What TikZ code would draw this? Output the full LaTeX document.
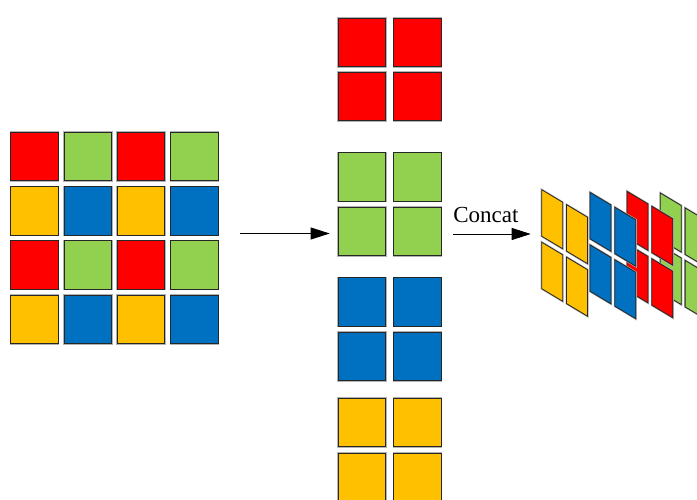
\documentclass[tikz,border=0pt]{standalone}
\usepackage{fontspec}
\setmainfont{Liberation Serif}
\usetikzlibrary{positioning,arrows.meta}

\definecolor{cred}{HTML}{FF0000}
\definecolor{cgreen}{HTML}{92D050}
\definecolor{cblue}{HTML}{0070C0}
\definecolor{cyellow}{HTML}{FFC000}

% one slanted square of the stacked view
\newcommand{\panel}[3]{%
  \draw[pane, fill=#1] (#2,#3) -- ++(21,12.6) -- ++(0,46.5) -- ++(-21,-12.6) -- cycle;}
% a 2x2 block of slanted squares
\newcommand{\panelblock}[3]{%
  \panel{#1}{#2}{#3} \panel{#1}{#2+24.8}{#3+14.9}
  \panel{#1}{#2}{#3+52.5} \panel{#1}{#2+24.8}{#3+67.4}}

\begin{document}
\begin{tikzpicture}[x=1bp, y=-1bp, node distance=5.8bp,
	sq/.style = {draw=black!85, line width=0.8pt, minimum width=47.5bp, minimum height=48.5bp,
		inner sep=0pt, outer sep=0pt, preaction={draw=black!30, line width=2pt}},
	pane/.style = {draw=black!85, line width=0.8pt, preaction={draw=black!30, line width=2pt}},
	arr/.style = {line width=0.8pt, -{Triangle[length=19bp,width=12bp]}}]
	\path[use as bounding box] (0,0) rectangle (697,500);
	\clip (0,0) rectangle (697,500);

	% input map
	\node[sq, fill=cred] (a1) at (34.5,156.5) {};
	\node[sq, fill=cgreen, right=of a1] (a2) {};
	\node[sq, fill=cred, right=of a2] (a3) {};
	\node[sq, fill=cgreen, right=of a3] (a4) {};
	\node[sq, fill=cyellow, below=of a1] (b1) {};
	\node[sq, fill=cblue, right=of b1] (b2) {};
	\node[sq, fill=cyellow, right=of b2] (b3) {};
	\node[sq, fill=cblue, right=of b3] (b4) {};
	\node[sq, fill=cred, below=of b1] (c1) {};
	\node[sq, fill=cgreen, right=of c1] (c2) {};
	\node[sq, fill=cred, right=of c2] (c3) {};
	\node[sq, fill=cgreen, right=of c3] (c4) {};
	\node[sq, fill=cyellow, below=of c1] (d1) {};
	\node[sq, fill=cblue, right=of d1] (d2) {};
	\node[sq, fill=cyellow, right=of d2] (d3) {};
	\node[sq, fill=cblue, right=of d3] (d4) {};

	% split by colour
	\node[sq, fill=cred] (r1) at (361.9,42.3) {};
	\node[sq, fill=cred, right=8bp of r1] (r2) {};
	\node[sq, fill=cred, below=of r1] (r3) {};
	\node[sq, fill=cred, right=8bp of r3] (r4) {};
	\node[sq, fill=cgreen] (g1) at (361.9,177) {};
	\node[sq, fill=cgreen, right=8bp of g1] (g2) {};
	\node[sq, fill=cgreen, below=of g1] (g3) {};
	\node[sq, fill=cgreen, right=8bp of g3] (g4) {};
	\node[sq, fill=cblue] (u1) at (361.9,302) {};
	\node[sq, fill=cblue, right=8bp of u1] (u2) {};
	\node[sq, fill=cblue, below=of u1] (u3) {};
	\node[sq, fill=cblue, right=8bp of u3] (u4) {};
	\node[sq, fill=cyellow] (y1) at (361.9,422.6) {};
	\node[sq, fill=cyellow, right=8bp of y1] (y2) {};
	\node[sq, fill=cyellow, below=6.5bp of y1] (y3) {};
	\node[sq, fill=cyellow, right=8bp of y3] (y4) {};

	\coordinate (s1) at (240,233.5);
	\draw[arr, shorten >=8.5bp] (s1) -- (s1 -| g3.west);
	\coordinate (t2) at (530.7,234);
	\draw[arr, shorten <=11.8bp] (g4.east |- t2) -- (t2)
		node[midway, above=10.7bp, inner sep=0pt, font=\fontsize{23bp}{27bp}\selectfont] (lbl) {Concat};

	% stacked result, back to front
	\panelblock{cgreen}{660.3}{193}
	\panelblock{cred}{627}{191.3}
	\panelblock{cblue}{590}{192.3}
	\panelblock{cyellow}{541.7}{189.7}
\end{tikzpicture}
\end{document}
